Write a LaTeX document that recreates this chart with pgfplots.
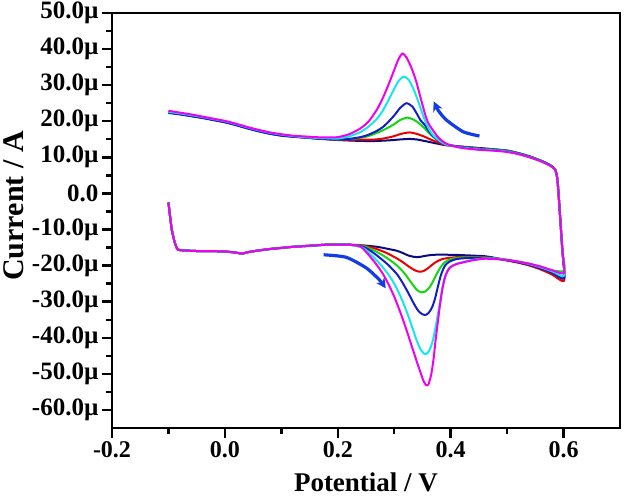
\documentclass[border=0pt]{standalone}
\usepackage{fontspec}
\setmainfont{Liberation Serif}
\usepackage{pgfplots}
\pgfplotsset{compat=1.18}
\usetikzlibrary{arrows.meta}
\definecolor{cnavy}{RGB}{10,10,130}
\definecolor{cred}{RGB}{235,0,0}
\definecolor{cgreen}{RGB}{20,215,20}
\definecolor{cblue}{RGB}{20,30,200}
\definecolor{ccyan}{RGB}{20,230,235}
\definecolor{cmag}{RGB}{240,0,240}
\definecolor{carrow}{RGB}{20,60,230}
\begin{document}
\begin{tikzpicture}
\useasboundingbox (0,0) rectangle (629pt,497pt);
\begin{axis}[
  at={(112pt,69pt)}, anchor=south west,
  width=508pt, height=415pt, scale only axis,
  xmin=-0.2, xmax=0.7, ymin=-65, ymax=50,
  axis line style={line width=2.4pt},
  tick style={line width=2.4pt, black},
  tick align=outside, tick pos=left,
  major tick length=10pt, minor tick length=6pt,
  xtick={-0.2,0,0.2,0.4,0.6},
  xticklabels={-0.2,0.0,0.2,0.4,0.6},
  minor xtick={-0.1,0.1,0.3,0.5},
  ytick={-60,-50,-40,-30,-20,-10,0,10,20,30,40,50},
  yticklabels={-60.0µ,-50.0µ,-40.0µ,-30.0µ,-20.0µ,-10.0µ,0.0,10.0µ,20.0µ,30.0µ,40.0µ,50.0µ},
  minor ytick={-55,-45,-35,-25,-15,-5,5,15,25,35,45},
  xticklabel style={font=\fontsize{24}{24}\selectfont\bfseries},
  yticklabel style={font=\fontsize{25}{25}\selectfont\bfseries},
  xlabel={Potential / V},
  ylabel={Current / A},
  xlabel style={font=\fontsize{27}{27}\selectfont\bfseries, at={(axis description cs:0.5,-0.152)}, anchor=base},
  ylabel style={font=\fontsize{30}{30}\selectfont\bfseries, at={(axis description cs:-0.175,0.535)}, anchor=base},
  every axis plot/.append style={line width=2pt, line join=round, smooth, tension=0.4},
]
% navy
\addplot[cnavy] coordinates {
(-0.1,22.4) (-0.08,22.0) (-0.06,21.5) (-0.04,21.0) (-0.02,20.4) (0.0,19.8) (0.02,19.0) (0.04,18.1) (0.06,17.3) (0.08,16.6) (0.10,16.1) (0.12,15.8) (0.14,15.5) (0.16,15.2) (0.18,15.0) (0.20,14.8)
(0.23,14.6) (0.26,14.5) (0.29,14.7) (0.31,14.95) (0.327,15.1) (0.34,14.95) (0.355,14.5) (0.37,14.0) (0.39,13.4) (0.41,13.1)
(0.45,12.6) (0.48,12.2) (0.50,11.9) (0.52,11.2) (0.54,10.3) (0.56,9.1) (0.575,8.0) (0.585,6.7) (0.589,4.0) (0.592,-2) (0.595,-9) (0.598,-16) (0.601,-23.5)
(0.58,-22.1) (0.56,-20.9) (0.54,-19.9) (0.52,-19.1) (0.50,-18.5) (0.48,-17.9) (0.46,-17.4)
(0.42,-17.1) (0.40,-17.0) (0.37,-17.0) (0.355,-17.3) (0.345,-17.6) (0.336,-17.6) (0.325,-17.2) (0.315,-16.5) (0.305,-15.9) (0.29,-15.4) (0.27,-14.8) (0.245,-14.4)
(0.22,-14.2) (0.20,-14.2) (0.18,-14.2) (0.16,-14.4) (0.14,-14.6) (0.12,-14.8) (0.10,-15.1) (0.08,-15.4) (0.06,-15.8) (0.04,-16.3) (0.03,-16.7) (0.02,-16.4) (0.0,-16.1) (-0.02,-16.0) (-0.04,-16.0) (-0.06,-15.9) (-0.08,-15.7) (-0.084,-15.5) (-0.089,-13.5) (-0.094,-10.1) (-0.097,-6.5) (-0.1,-2.5)
};
% red
\addplot[cred] coordinates {
(-0.1,22.5) (-0.08,22.0) (-0.06,21.5) (-0.04,21.0) (-0.02,20.4) (0.0,19.8) (0.02,19.0) (0.04,18.1) (0.06,17.3) (0.08,16.6) (0.10,16.1) (0.12,15.8) (0.14,15.5) (0.16,15.3) (0.18,15.1) (0.20,14.9)
(0.26,14.9) (0.28,15.2) (0.298,15.8) (0.312,16.5) (0.327,16.9) (0.34,16.5) (0.354,15.7) (0.365,14.9) (0.375,14.3) (0.39,13.5) (0.41,13.1)
(0.45,12.4) (0.48,12.0) (0.50,11.7) (0.52,11.0) (0.54,10.1) (0.56,9.0) (0.575,7.9) (0.585,6.6) (0.589,4.0) (0.592,-2) (0.595,-9) (0.598,-16) (0.601,-24.2)
(0.58,-22.5) (0.56,-21.1) (0.54,-20.0) (0.52,-19.2) (0.50,-18.6) (0.48,-18.0) (0.46,-17.7)
(0.42,-17.6) (0.40,-17.8) (0.385,-18.2) (0.375,-18.9) (0.367,-19.8) (0.36,-20.7) (0.352,-21.5) (0.345,-21.7) (0.338,-21.4) (0.33,-20.7) (0.32,-19.6) (0.31,-18.5) (0.30,-17.6) (0.285,-16.4) (0.265,-15.2) (0.245,-14.5)
(0.22,-14.2) (0.20,-14.2) (0.18,-14.2) (0.16,-14.4) (0.14,-14.6) (0.12,-14.8) (0.10,-15.1) (0.08,-15.4) (0.06,-15.8) (0.04,-16.3) (0.03,-16.7) (0.02,-16.4) (0.0,-16.1) (-0.02,-16.0) (-0.04,-16.0) (-0.06,-15.9) (-0.08,-15.7) (-0.084,-15.5) (-0.089,-13.5) (-0.094,-10.1) (-0.097,-6.5) (-0.1,-2.5)
};
% green
\addplot[cgreen] coordinates {
(-0.1,22.5) (-0.08,22.1) (-0.06,21.6) (-0.04,21.1) (-0.02,20.5) (0.0,19.9) (0.02,19.1) (0.04,18.2) (0.06,17.4) (0.08,16.7) (0.10,16.2) (0.12,15.9) (0.14,15.6) (0.16,15.4) (0.18,15.2) (0.20,15.0)
(0.23,15.2) (0.25,15.7) (0.265,16.5) (0.28,17.5) (0.29,18.3) (0.30,19.2) (0.31,20.3) (0.323,21.0) (0.335,20.4) (0.345,19.3) (0.352,18.3) (0.357,17.5) (0.363,16.5) (0.369,15.7) (0.38,14.5) (0.40,13.3)
(0.45,12.4) (0.48,12.1) (0.50,11.8) (0.52,11.1) (0.54,10.2) (0.56,9.1) (0.575,8.0) (0.585,6.7) (0.589,4.0) (0.592,-2) (0.595,-9) (0.598,-16) (0.602,-20.5)
(0.598,-21.6) (0.58,-21.3) (0.56,-20.3) (0.54,-19.5) (0.52,-18.9) (0.50,-18.4) (0.48,-18.0) (0.46,-17.8)
(0.43,-17.7) (0.415,-17.8) (0.40,-18.2) (0.39,-19.0) (0.382,-20.5) (0.375,-22.4) (0.369,-24.3) (0.363,-25.9) (0.356,-27.1) (0.348,-27.4) (0.34,-26.7) (0.33,-24.7) (0.318,-22.1) (0.305,-20.0) (0.29,-18.2) (0.275,-16.7) (0.26,-15.5) (0.245,-14.6)
(0.22,-14.2) (0.20,-14.2) (0.18,-14.2) (0.16,-14.4) (0.14,-14.6) (0.12,-14.8) (0.10,-15.1) (0.08,-15.4) (0.06,-15.8) (0.04,-16.3) (0.03,-16.7) (0.02,-16.4) (0.0,-16.1) (-0.02,-16.0) (-0.04,-16.0) (-0.06,-15.9) (-0.08,-15.7) (-0.084,-15.5) (-0.089,-13.5) (-0.094,-10.1) (-0.097,-6.5) (-0.1,-2.5)
};
% blue
\addplot[cblue] coordinates {
(-0.1,22.3) (-0.08,21.9) (-0.06,21.4) (-0.04,20.9) (-0.02,20.3) (0.0,19.7) (0.02,18.9) (0.04,18.0) (0.06,17.2) (0.08,16.5) (0.10,16.0) (0.12,15.7) (0.14,15.5) (0.16,15.3) (0.18,15.1) (0.20,15.0)
(0.22,15.1) (0.24,15.6) (0.255,16.3) (0.27,17.4) (0.28,18.4) (0.29,19.9) (0.30,21.6) (0.31,23.6) (0.3215,25.0) (0.332,24.1) (0.34,22.1) (0.347,20.2) (0.354,19.0) (0.36,17.6) (0.366,16.3) (0.375,15.0) (0.385,14.0) (0.40,13.3)
(0.45,12.3) (0.48,12.0) (0.50,11.7) (0.52,11.0) (0.54,10.1) (0.56,9.0) (0.575,7.9) (0.585,6.6) (0.589,4.0) (0.592,-2) (0.595,-9) (0.598,-16) (0.601,-23.5)
(0.58,-22.0) (0.56,-20.8) (0.54,-19.8) (0.52,-19.1) (0.50,-18.5) (0.48,-18.1) (0.46,-17.9)
(0.43,-17.9) (0.41,-18.2) (0.398,-18.9) (0.39,-20.0) (0.383,-22.5) (0.377,-26.1) (0.372,-29.3) (0.367,-31.6) (0.361,-33.1) (0.355,-33.7) (0.35,-33.5) (0.343,-32.6) (0.335,-30.6) (0.325,-27.6) (0.315,-24.8) (0.305,-22.4) (0.29,-19.9) (0.275,-17.9) (0.26,-16.1) (0.245,-14.8)
(0.22,-14.2) (0.20,-14.2) (0.18,-14.2) (0.16,-14.4) (0.14,-14.6) (0.12,-14.8) (0.10,-15.1) (0.08,-15.4) (0.06,-15.8) (0.04,-16.3) (0.03,-16.7) (0.02,-16.4) (0.0,-16.1) (-0.02,-16.0) (-0.04,-16.0) (-0.06,-15.9) (-0.08,-15.7) (-0.084,-15.5) (-0.089,-13.5) (-0.094,-10.1) (-0.097,-6.5) (-0.1,-2.5)
};
% cyan
\addplot[ccyan] coordinates {
(-0.1,22.6) (-0.08,22.2) (-0.06,21.7) (-0.04,21.2) (-0.02,20.6) (0.0,20.0) (0.02,19.2) (0.04,18.3) (0.06,17.5) (0.08,16.8) (0.10,16.3) (0.12,15.9) (0.14,15.6) (0.16,15.4) (0.18,15.3) (0.20,15.2)
(0.22,15.8) (0.24,17.0) (0.255,18.6) (0.27,20.8) (0.28,23.0) (0.29,25.9) (0.30,29.0) (0.308,31.2) (0.317,32.4) (0.326,31.4) (0.334,29.0) (0.34,26.6) (0.345,24.4) (0.35,22.1) (0.356,19.6) (0.362,17.7) (0.368,16.3) (0.375,15.2) (0.385,14.1) (0.395,13.4)
(0.42,12.7) (0.45,12.2) (0.48,11.9) (0.50,11.6) (0.52,10.9) (0.54,10.0) (0.56,8.9) (0.575,7.8) (0.585,6.5) (0.589,4.0) (0.592,-2) (0.595,-9) (0.598,-16) (0.601,-22.8)
(0.58,-21.6) (0.56,-20.5) (0.54,-19.6) (0.52,-18.9) (0.50,-18.4) (0.48,-18.1) (0.46,-18.0)
(0.44,-18.4) (0.425,-18.9) (0.41,-19.5) (0.40,-20.3) (0.395,-21.2) (0.39,-23.0) (0.385,-26.4) (0.3796,-31.4) (0.374,-36.5) (0.368,-41.0) (0.362,-43.6) (0.355,-44.6) (0.347,-43.3) (0.34,-40.8) (0.333,-37.6) (0.325,-34.0) (0.315,-29.9) (0.305,-26.5) (0.295,-23.7) (0.285,-21.5) (0.275,-19.6) (0.265,-17.9) (0.255,-16.4) (0.245,-15.1)
(0.22,-14.2) (0.20,-14.2) (0.18,-14.2) (0.16,-14.4) (0.14,-14.6) (0.12,-14.8) (0.10,-15.1) (0.08,-15.4) (0.06,-15.8) (0.04,-16.3) (0.03,-16.7) (0.02,-16.4) (0.0,-16.1) (-0.02,-16.0) (-0.04,-16.0) (-0.06,-15.9) (-0.08,-15.7) (-0.084,-15.5) (-0.089,-13.5) (-0.094,-10.1) (-0.097,-6.5) (-0.1,-2.5)
};
% magenta
\addplot[cmag] coordinates {
(-0.1,22.9) (-0.08,22.4) (-0.06,21.9) (-0.04,21.3) (-0.02,20.7) (0.0,20.1) (0.02,19.3) (0.04,18.4) (0.06,17.6) (0.08,16.9) (0.10,16.4) (0.12,16.0) (0.14,15.8) (0.16,15.6) (0.18,15.5) (0.20,15.6)
(0.22,16.4) (0.24,18.0) (0.255,20.0) (0.27,23.4) (0.28,26.5) (0.29,30.2) (0.30,34.2) (0.307,37.0) (0.3145,38.8) (0.322,37.6) (0.33,35.0) (0.335,32.9) (0.34,30.5) (0.345,27.5) (0.35,24.6) (0.355,21.8) (0.36,19.6) (0.365,18.3) (0.37,17.2) (0.375,16.1) (0.38,15.2) (0.39,14.0) (0.40,13.3)
(0.42,12.6) (0.45,12.1) (0.48,11.8) (0.50,11.5) (0.52,10.9) (0.54,10.0) (0.56,8.9) (0.575,7.8) (0.585,6.6) (0.589,4.0) (0.592,-2) (0.595,-9) (0.598,-16) (0.601,-22.0)
(0.58,-21.3) (0.56,-20.3) (0.54,-19.5) (0.52,-18.9) (0.50,-18.4) (0.48,-18.2) (0.46,-18.1)
(0.44,-18.5) (0.425,-19.0) (0.41,-19.6) (0.40,-20.4) (0.395,-21.4) (0.39,-23.2) (0.385,-26.8) (0.3805,-31.6) (0.377,-36.0) (0.373,-41.0) (0.37,-45.5) (0.366,-49.8) (0.361,-52.8) (0.357,-53.2) (0.352,-52.0) (0.347,-49.8) (0.34,-46.6) (0.33,-41.8) (0.32,-37.0) (0.31,-32.6) (0.30,-28.6) (0.29,-25.2) (0.28,-22.3) (0.27,-20.0) (0.26,-18.0) (0.25,-16.2) (0.24,-14.7)
(0.22,-14.2) (0.20,-14.2) (0.18,-14.2) (0.16,-14.4) (0.14,-14.6) (0.12,-14.8) (0.10,-15.1) (0.08,-15.4) (0.06,-15.8) (0.04,-16.3) (0.03,-16.7) (0.02,-16.4) (0.0,-16.1) (-0.02,-16.0) (-0.04,-16.0) (-0.06,-15.9) (-0.08,-15.7) (-0.084,-15.5) (-0.089,-13.5) (-0.094,-10.1) (-0.097,-6.5) (-0.1,-2.5)
};
% scan direction arrows
\addplot[carrow, line width=3.2pt, -{Stealth[length=10pt,width=10pt]}] coordinates {(0.451,15.9) (0.422,17.1) (0.392,20.4) (0.378,23.0) (0.370,25.5)};
\addplot[carrow, line width=3.2pt, -{Stealth[length=10pt,width=10pt]}] coordinates {(0.175,-17.0) (0.215,-17.7) (0.251,-20.7) (0.274,-24.0) (0.285,-26.3)};
\end{axis}
\end{tikzpicture}
\end{document}
